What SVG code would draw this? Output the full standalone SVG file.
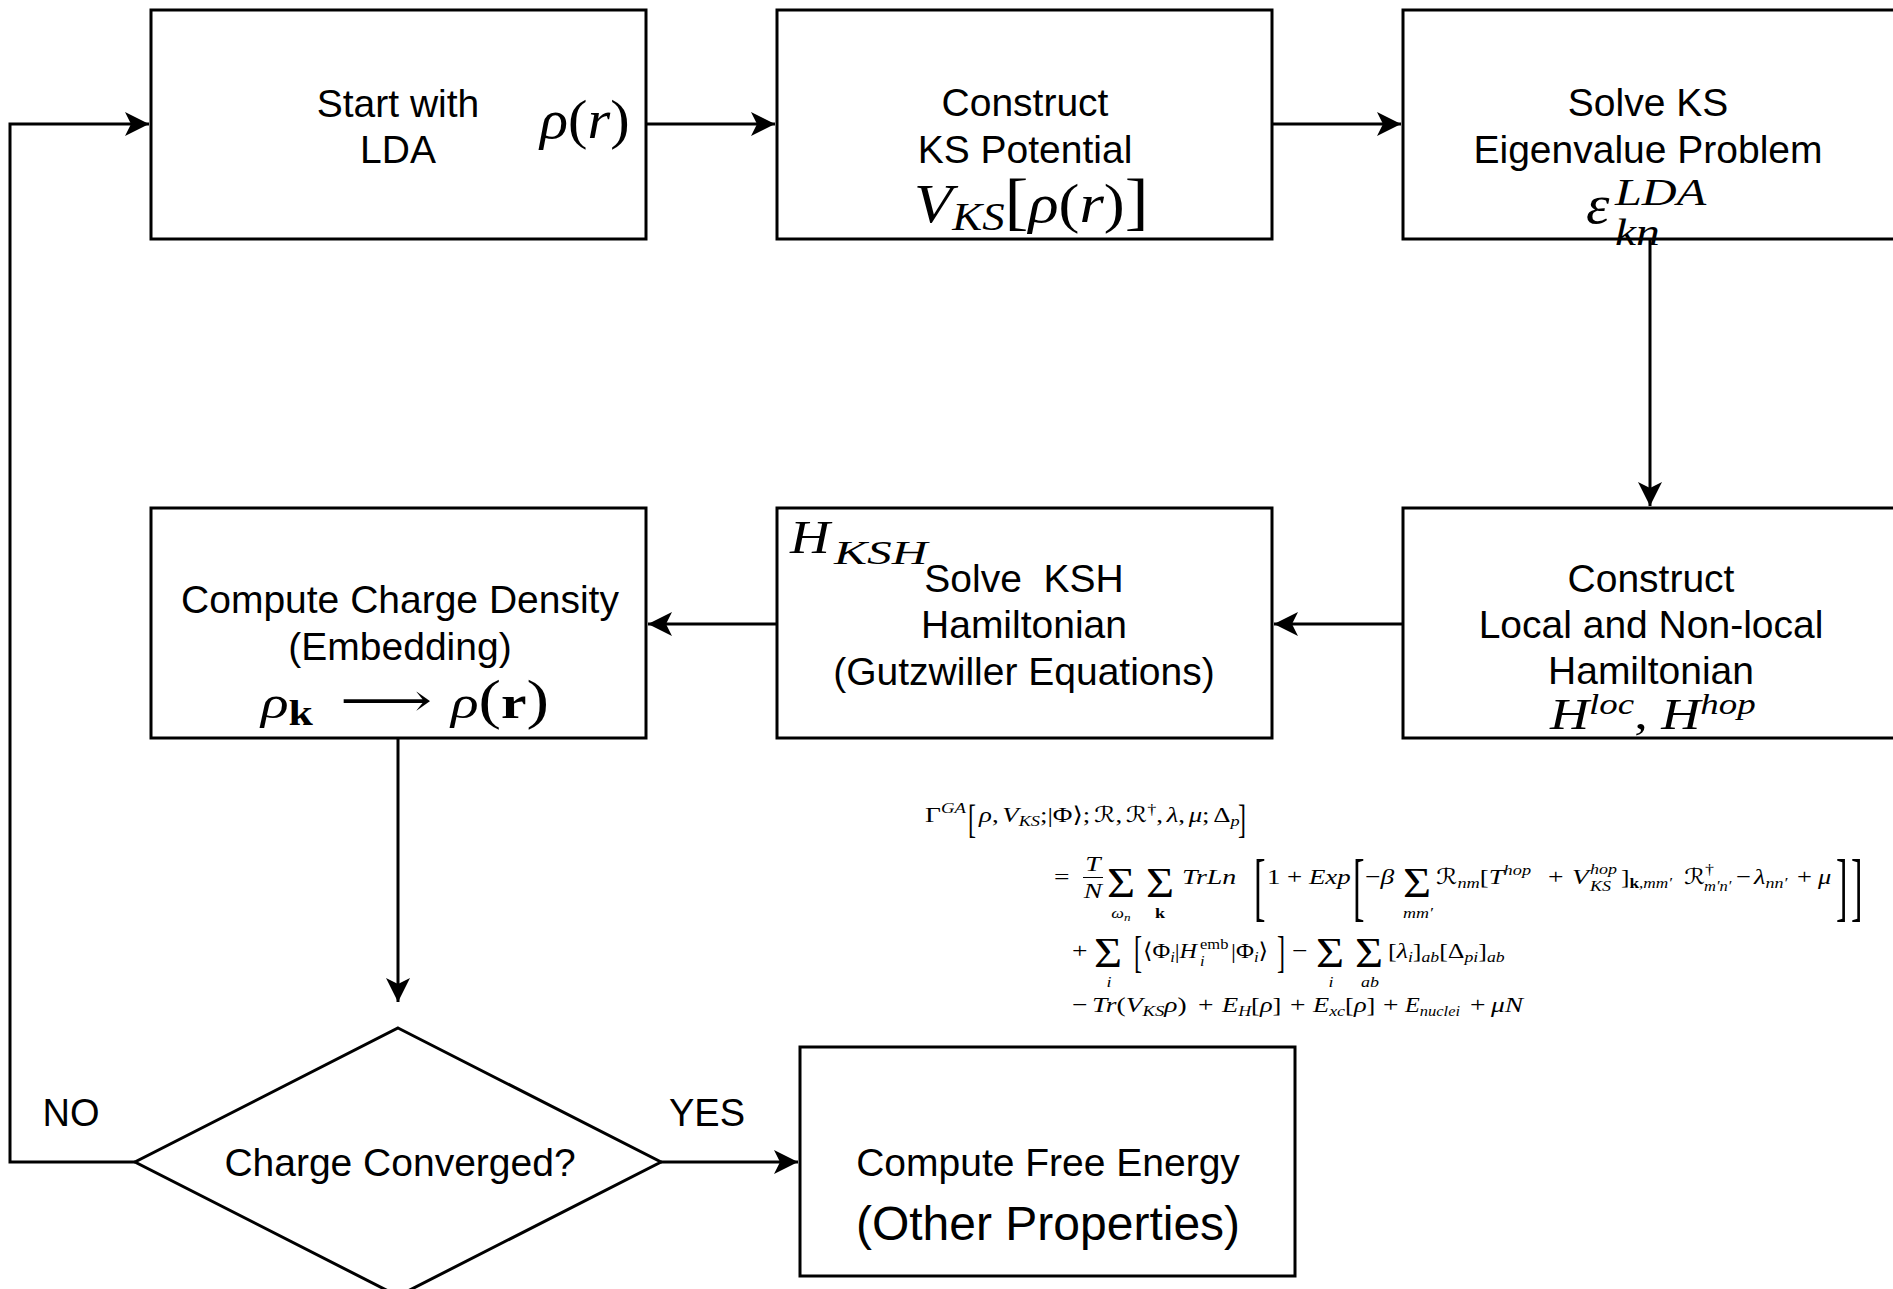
<svg xmlns="http://www.w3.org/2000/svg" width="1893" height="1289" viewBox="0 0 1893 1289">
  <style>
    .box { fill: #ffffff; stroke: #000000; stroke-width: 3; }
    .edge { fill: none; stroke: #000000; stroke-width: 3; }
    .lbl { font-family: "Liberation Sans", Arial, Helvetica, sans-serif; font-size: 39px; text-anchor: middle; fill: #000; }
    .big { font-size: 48px; }
    .mi { font-family: "Liberation Serif", "DejaVu Serif", "DejaVu Sans", serif; font-style: italic; fill: #000; }
    .mr { font-family: "Liberation Serif", "DejaVu Serif", "DejaVu Sans", serif; font-style: normal; fill: #000; }
    .up { font-style: normal; }
    .it { font-style: italic; }
    .bf { font-style: normal; font-weight: bold; }
    .f { font-size: 22px; }
    .s { font-size: 15px; }
    .sig { font-family: "Liberation Serif", "DejaVu Serif", serif; font-size: 42px; fill: #000; }
    .br { font-family: "Liberation Serif", "DejaVu Serif", serif; fill: #000; }
  </style>
  <defs>
    <marker id="arrow" markerUnits="userSpaceOnUse" markerWidth="26" markerHeight="26" refX="24" refY="12" orient="auto">
      <path d="M0,0 L24,12 L0,24 L6,12 Z" fill="#000"/>
    </marker>
  </defs>

  <!-- connectors -->
  <g id="connectors">
    <path class="edge" d="M646,124 L775,124" marker-end="url(#arrow)"/>
    <path class="edge" d="M1272,124 L1401,124" marker-end="url(#arrow)"/>
    <path class="edge" d="M1650,239 L1650,506" marker-end="url(#arrow)"/>
    <path class="edge" d="M1403,624 L1274,624" marker-end="url(#arrow)"/>
    <path class="edge" d="M777,624 L648,624" marker-end="url(#arrow)"/>
    <path class="edge" d="M398,738 L398,1002" marker-end="url(#arrow)"/>
    <path class="edge" d="M661,1162 L798,1162" marker-end="url(#arrow)"/>
    <path class="edge" d="M135,1162 L10,1162 L10,124 L149,124" marker-end="url(#arrow)"/>
    <text class="lbl" x="71" y="1126" style="font-size:38px">NO</text>
    <text class="lbl" x="707" y="1126" style="font-size:38px">YES</text>
  </g>

  <!-- start with LDA density -->
  <g id="start-lda">
    <rect class="box" x="151" y="10" width="495" height="229"/>
    <text class="lbl" x="398" y="117">Start with</text>
    <text class="lbl" x="398" y="163">LDA</text>
    <text class="mi" transform="translate(540,138) scale(1.08,1)" style="font-size:54px">ρ<tspan class="up">(</tspan>r<tspan class="up">)</tspan></text>
  </g>

  <!-- KS potential -->
  <g id="ks-potential">
    <rect class="box" x="777" y="10" width="495" height="229"/>
    <text class="lbl" x="1025" y="116">Construct</text>
    <text class="lbl" x="1025" y="163">KS Potential</text>
    <text class="mi" transform="translate(914,222) scale(1.12,1)" style="font-size:56px">V<tspan dy="8" style="font-size:40px">KS</tspan><tspan class="up" dy="-8" style="font-size:64px">[</tspan>ρ<tspan class="up">(</tspan>r<tspan class="up">)</tspan><tspan class="up" style="font-size:64px">]</tspan></text>
  </g>

  <!-- KS eigenvalue problem -->
  <g id="ks-eigen">
    <rect class="box" x="1403" y="10" width="495" height="229"/>
    <text class="lbl" x="1648" y="116">Solve KS</text>
    <text class="lbl" x="1648" y="163">Eigenvalue Problem</text>
    <text class="mi" transform="translate(1586,223) scale(1.1,1)" style="font-size:54px">ε</text>
    <text class="mi" transform="translate(1615,205) scale(1.27,1)" style="font-size:38px">LDA</text>
    <text class="mi" transform="translate(1615,245) scale(1.25,1)" style="font-size:38px">kn</text>
  </g>

  <!-- local and non-local Hamiltonian -->
  <g id="local-hamiltonian">
    <rect class="box" x="1403" y="508" width="495" height="230"/>
    <text class="lbl" x="1651" y="592">Construct</text>
    <text class="lbl" x="1651" y="638">Local and Non-local</text>
    <text class="lbl" x="1651" y="684">Hamiltonian</text>
    <text class="mi" transform="translate(1550,729) scale(1.23,1)" style="font-size:44px">H<tspan dy="-15" style="font-size:30px">loc</tspan><tspan class="up" dy="15">, </tspan>H<tspan dy="-15" style="font-size:30px">hop</tspan></text>
  </g>

  <!-- KSH Hamiltonian -->
  <g id="ksh-solve">
    <rect class="box" x="777" y="508" width="495" height="230"/>
    <text class="mi" transform="translate(790,553) scale(1.2,1)" style="font-size:46px">H</text>
    <text class="mi" transform="translate(834,564) scale(1.5,1)" style="font-size:33px">KSH</text>
    <text class="lbl" x="1024" y="592" xml:space="preserve">Solve  KSH</text>
    <text class="lbl" x="1024" y="638">Hamiltonian</text>
    <text class="lbl" x="1024" y="685">(Gutzwiller Equations)</text>
  </g>

  <!-- charge density -->
  <g id="charge-density">
    <rect class="box" x="151" y="508" width="495" height="230"/>
    <text class="lbl" x="400" y="613">Compute Charge Density</text>
    <text class="lbl" x="400" y="660">(Embedding)</text>
    <text class="mi" transform="translate(261,718) scale(1.25,1)" style="font-size:46px">ρ<tspan class="bf" dy="7" style="font-size:35px">k</tspan></text>
    <text class="mr" transform="translate(340,716) scale(1.4,1)" style="font-size:46px">⟶</text>
    <text class="mi" transform="translate(451,718) scale(1.25,1)" style="font-size:46px">ρ<tspan class="up" style="font-size:54px">(</tspan><tspan class="bf">r</tspan><tspan class="up" style="font-size:54px">)</tspan></text>
  </g>

  <!-- convergence check -->
  <g id="converged">
    <polygon class="box" points="398,1028 661,1162 398,1296 135,1162"/>
    <text class="lbl" x="400" y="1176">Charge Converged?</text>
  </g>

  <!-- free energy -->
  <g id="free-energy">
    <rect class="box" x="800" y="1047" width="495" height="229"/>
    <text class="lbl" x="1048" y="1176">Compute Free Energy</text>
    <text class="lbl big" x="1048" y="1240">(Other Properties)</text>
  </g>

  <!-- Gutzwiller free energy functional -->
  <g id="functional">
    <!-- line 1 -->
    <text class="mr f" transform="translate(925,822) scale(1.25,1)">Γ</text>
    <text class="mi s" transform="translate(941,813) scale(1.25,1)">GA</text>
    <text class="br" transform="translate(968,833) scale(0.6,1)" style="font-size:40px">[</text>
    <text class="mi f" transform="translate(979,822) scale(1.22,1)">ρ<tspan class="up">,</tspan><tspan dx="3">V</tspan><tspan class="s" dy="4">KS</tspan><tspan class="up" dy="-4">;|Φ⟩;</tspan><tspan dx="3">ℛ</tspan><tspan class="up">,</tspan><tspan dx="3">ℛ</tspan><tspan class="up s" dy="-8">†</tspan><tspan class="up" dy="8">,</tspan><tspan dx="3">λ</tspan><tspan class="up">,</tspan><tspan dx="3">μ</tspan><tspan class="up">;</tspan><tspan class="up" dx="3">Δ</tspan><tspan class="s" dy="4">p</tspan></text>
    <text class="br" transform="translate(1238,833) scale(0.6,1)" style="font-size:40px">]</text>

    <!-- line 2 -->
    <text class="mr f" transform="translate(1054,884) scale(1.25,1)">=</text>
    <text class="mi f" transform="translate(1093,871) scale(1.25,1)" text-anchor="middle">T</text>
    <line x1="1083" y1="877.5" x2="1103" y2="877.5" stroke="#000" stroke-width="1"/>
    <text class="mi f" transform="translate(1093,898) scale(1.25,1)" text-anchor="middle">N</text>
    <text class="sig" transform="translate(1107,897) scale(1.15,1)">Σ</text>
    <text class="mi s" transform="translate(1121,918) scale(1.2,1)" text-anchor="middle">ω<tspan style="font-size:11px" dy="3">n</tspan></text>
    <text class="sig" transform="translate(1146,897) scale(1.15,1)">Σ</text>
    <text class="mr s bf" transform="translate(1160,918) scale(1.2,1)" text-anchor="middle">k</text>
    <text class="mi f" transform="translate(1182,884) scale(1.27,1)">TrLn</text>
    <text class="br" transform="translate(1254,912) scale(0.45,1)" style="font-size:77px">[</text>
    <text class="mi f" transform="translate(1267,884) scale(1.22,1)"><tspan class="up">1 + </tspan>Exp</text>
    <text class="br" transform="translate(1353,912) scale(0.45,1)" style="font-size:77px">[</text>
    <text class="mi f" transform="translate(1365,884) scale(1.25,1)"><tspan class="up">−</tspan>β</text>
    <text class="sig" transform="translate(1403,897) scale(1.15,1)">Σ</text>
    <text class="mi s" transform="translate(1418,918) scale(1.2,1)" text-anchor="middle">mm′</text>
    <text class="mi f" transform="translate(1436,884) scale(1.22,1)">ℛ<tspan class="s" dy="4">nm</tspan><tspan class="up" dy="-4">[</tspan>T<tspan class="s" dy="-9">hop</tspan></text>
    <text class="mr f" transform="translate(1548,884) scale(1.25,1)">+</text>
    <text class="mi f" transform="translate(1572,884) scale(1.25,1)">V</text>
    <text class="mi s" transform="translate(1590,874) scale(1.2,1)">hop</text>
    <text class="mi s" transform="translate(1590,891) scale(1.2,1)">KS</text>
    <text class="mr f" transform="translate(1621,884) scale(1.15,1)">]<tspan class="s bf" dy="4">k</tspan><tspan class="s it">,mm′</tspan></text>
    <text class="mi f" transform="translate(1684,884) scale(1.2,1)">ℛ</text>
    <text class="mr s" transform="translate(1705,874) scale(1.2,1)">†</text>
    <text class="mi s" transform="translate(1704,891) scale(1.1,1)">m′n′</text>
    <text class="mr f" transform="translate(1736,884) scale(1.2,1)">−</text>
    <text class="mi f" transform="translate(1754,884) scale(1.2,1)">λ<tspan class="s" dy="4">nn′</tspan></text>
    <text class="mr f" transform="translate(1797,884) scale(1.2,1)">+</text>
    <text class="mi f" transform="translate(1818,884) scale(1.2,1)">μ</text>
    <text class="br" transform="translate(1836,912) scale(0.45,1)" style="font-size:77px">]</text>
    <text class="br" transform="translate(1851,912) scale(0.45,1)" style="font-size:77px">]</text>

    <!-- line 3 -->
    <text class="mr f" transform="translate(1072,958) scale(1.25,1)">+</text>
    <text class="sig" transform="translate(1094,967) scale(1.15,1)">Σ</text>
    <text class="mi s" transform="translate(1109,987) scale(1.2,1)" text-anchor="middle">i</text>
    <text class="br" transform="translate(1134,967) scale(0.55,1)" style="font-size:44px">[</text>
    <text class="mr f" transform="translate(1143,958) scale(1.1,1)">⟨Φ<tspan class="s it" dy="4">i</tspan><tspan dy="-4">|</tspan><tspan class="it">H</tspan></text>
    <text class="mr s" transform="translate(1200,949) scale(1.1,1)">emb</text>
    <text class="mi s" transform="translate(1200,966) scale(1.1,1)">i</text>
    <text class="mr f" transform="translate(1231,958) scale(1.12,1)">|Φ<tspan class="s it" dy="4">i</tspan><tspan dy="-4">⟩</tspan></text>
    <text class="br" transform="translate(1277,967) scale(0.55,1)" style="font-size:44px">]</text>
    <text class="mr f" transform="translate(1292,958) scale(1.25,1)">−</text>
    <text class="sig" transform="translate(1316,967) scale(1.15,1)">Σ</text>
    <text class="mi s" transform="translate(1331,987) scale(1.2,1)" text-anchor="middle">i</text>
    <text class="sig" transform="translate(1355,967) scale(1.15,1)">Σ</text>
    <text class="mi s" transform="translate(1370,987) scale(1.2,1)" text-anchor="middle">ab</text>
    <text class="mr f" transform="translate(1388,958) scale(1.18,1)">[<tspan class="it">λ</tspan><tspan class="s it" dy="4">i</tspan><tspan dy="-4">]</tspan><tspan class="s it" dy="4">ab</tspan><tspan dy="-4">[Δ</tspan><tspan class="s it" dy="4">pi</tspan><tspan dy="-4">]</tspan><tspan class="s it" dy="4">ab</tspan></text>

    <!-- line 4 -->
    <text class="mr f" transform="translate(1072,1012) scale(1.25,1)">−</text>
    <text class="mi f" transform="translate(1092,1012) scale(1.25,1)">Tr<tspan class="up">(</tspan>V<tspan class="s" dy="4">KS</tspan><tspan dy="-4">ρ</tspan><tspan class="up">)</tspan></text>
    <text class="mr f" transform="translate(1198,1012) scale(1.25,1)">+</text>
    <text class="mi f" transform="translate(1222,1012) scale(1.2,1)">E<tspan class="s" dy="4">H</tspan><tspan class="up" dy="-4">[</tspan>ρ<tspan class="up">]</tspan></text>
    <text class="mr f" transform="translate(1290,1012) scale(1.25,1)">+</text>
    <text class="mi f" transform="translate(1313,1012) scale(1.2,1)">E<tspan class="s" dy="4">xc</tspan><tspan class="up" dy="-4">[</tspan>ρ<tspan class="up">]</tspan></text>
    <text class="mr f" transform="translate(1383,1012) scale(1.25,1)">+</text>
    <text class="mi f" transform="translate(1405,1012) scale(1.1,1)">E<tspan class="s" dy="4">nuclei</tspan></text>
    <text class="mr f" transform="translate(1470,1012) scale(1.25,1)">+</text>
    <text class="mi f" transform="translate(1491,1012) scale(1.25,1)">μN</text>
  </g>
</svg>
